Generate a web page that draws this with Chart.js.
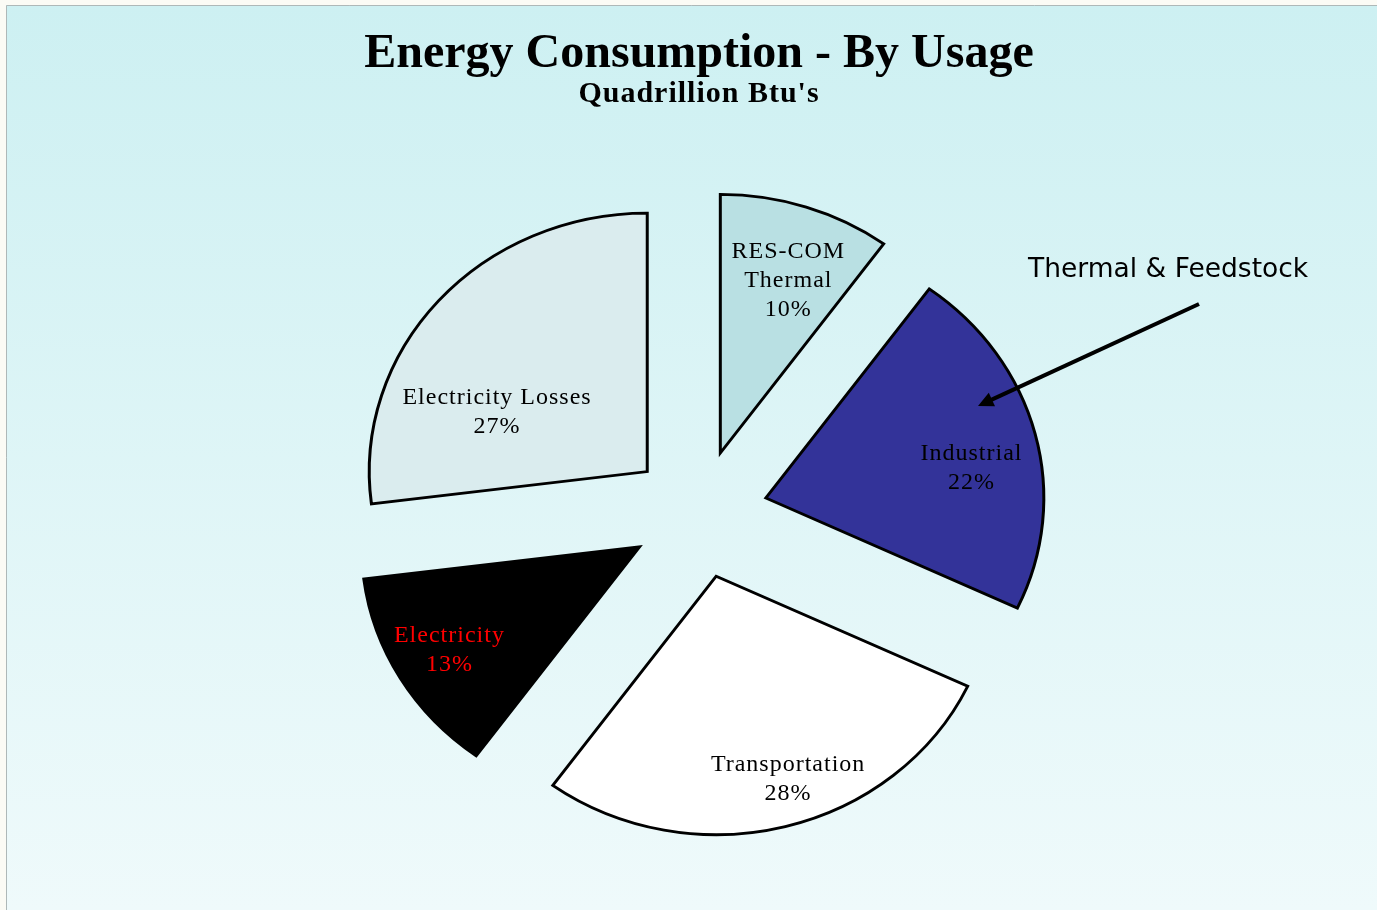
<!DOCTYPE html>
<html>
<head>
<meta charset="utf-8">
<script src="https://cdn.jsdelivr.net/npm/chart.js@4.4.0/dist/chart.umd.min.js"></script>
<style>
html, body { margin: 0; padding: 0; background: #fbfbf5; }
#energyPie { display: block; }
</style>
</head>
<body>
<canvas id="energyPie" width="1377" height="910"></canvas>
<script>
// data
const usageNames = ['RES-COM\nThermal', 'Industrial', 'Transportation', 'Electricity', 'Electricity Losses'];
const usageShares = [10, 22, 28, 13, 27];
const sliceColors = ['#b9e0e3', '#333399', '#ffffff', '#000000', '#daecee'];
const labelColors = ['#000000', '#000000', '#000000', '#ff0000', '#000000'];
const chartTitle = 'Energy Consumption - By Usage';
const chartSubtitle = "Quadrillion Btu's";
const calloutText = 'Thermal & Feedstock';

// look of the pie (excel style: exploded + a bit flattened)
const pieRadius = 278;
const explode = 69;
const squash = 0.93;
// label spot for each slice: [angle shift in deg from slice middle, fraction of radius]
const labelSpots = [[2, 0.715], [5, 0.75], [-4, 0.82], [0.6, 0.79], [-17.7, 0.59]];

const pieLook = {
	id: 'pieLook',
	beforeDraw(chart) {
		const {ctx, width, height} = chart;
		ctx.save();
		ctx.fillStyle = '#fbfbf5';
		ctx.fillRect(0, 0, width, height);
		const grad = ctx.createLinearGradient(0, 5, 0, height);
		grad.addColorStop(0, '#cdf0f2');
		grad.addColorStop(1, '#effafb');
		ctx.fillStyle = grad;
		ctx.fillRect(6, 5, width - 6, height - 5);
		ctx.strokeStyle = '#aeb8b8';
		ctx.lineWidth = 1;
		ctx.beginPath();
		ctx.moveTo(6.5, height);
		ctx.lineTo(6.5, 5.5);
		ctx.lineTo(width, 5.5);
		ctx.stroke();
		ctx.restore();
	},
	beforeDatasetsDraw(chart) {
		const ctx = chart.ctx;
		chart.getDatasetMeta(0).data.forEach((arc) => {
			const mid = (arc.startAngle + arc.endAngle) / 2;
			ctx.save();
			ctx.translate(arc.x, arc.y);
			ctx.scale(1, squash);
			ctx.translate(Math.cos(mid) * explode - arc.x, Math.sin(mid) * explode - arc.y);
			arc.draw(ctx);
			ctx.restore();
		});
		return false;
	},
	afterDraw(chart) {
		const ctx = chart.ctx;
		const cx = chart.chartArea.left + chart.chartArea.width / 2;
		ctx.save();
		ctx.fillStyle = '#000';
		ctx.textAlign = 'center';
		ctx.textBaseline = 'alphabetic';
		ctx.font = 'bold 48px "Liberation Serif", serif';
		ctx.fillText(chartTitle, cx, 67);
		ctx.font = 'bold 30px "Liberation Serif", serif';
		ctx.letterSpacing = '1px';
		ctx.fillText(chartSubtitle, cx, 102);

		// slice labels
		ctx.font = '24px "Liberation Serif", serif';
		ctx.letterSpacing = '1px';
		chart.getDatasetMeta(0).data.forEach((arc, i) => {
			const mid = (arc.startAngle + arc.endAngle) / 2;
			const la = mid + labelSpots[i][0] * Math.PI / 180;
			const r = labelSpots[i][1] * pieRadius;
			const px = arc.x + Math.cos(mid) * explode + Math.cos(la) * r;
			const py = arc.y + (Math.sin(mid) * explode + Math.sin(la) * r) * squash;
			const lines = usageNames[i].split('\n');
			lines.push(usageShares[i] + '%');
			ctx.fillStyle = labelColors[i];
			lines.forEach((line, j) => {
				ctx.fillText(line, px, py + (j - (lines.length - 1) / 2) * 29 + 8);
			});
		});

		// callout with arrow
		ctx.letterSpacing = '0px';
		ctx.textAlign = 'left';
		ctx.fillStyle = '#000';
		ctx.font = '26.5px "DejaVu Sans", sans-serif';
		ctx.fillText(calloutText, 1028, 277);
		const x0 = 1199, y0 = 304, x1 = 978, y1 = 406;
		const ang = Math.atan2(y1 - y0, x1 - x0);
		ctx.strokeStyle = '#000';
		ctx.lineWidth = 4;
		ctx.beginPath();
		ctx.moveTo(x0, y0);
		ctx.lineTo(x1 - Math.cos(ang) * 8, y1 - Math.sin(ang) * 8);
		ctx.stroke();
		ctx.beginPath();
		ctx.moveTo(x1, y1);
		ctx.lineTo(x1 - Math.cos(ang - 0.45) * 17, y1 - Math.sin(ang - 0.45) * 17);
		ctx.lineTo(x1 - Math.cos(ang + 0.45) * 17, y1 - Math.sin(ang + 0.45) * 17);
		ctx.closePath();
		ctx.fill();
		ctx.restore();
	}
};

const energyChart = new Chart(document.getElementById('energyPie'), {
	type: 'pie',
	data: {
		labels: usageNames,
		datasets: [{
			data: usageShares,
			backgroundColor: sliceColors,
			borderColor: '#000000',
			borderWidth: 3,
			borderJoinStyle: 'miter'
		}]
	},
	options: {
		responsive: false,
		animation: false,
		radius: pieRadius,
		layout: {
			padding: {left: 40, right: 19, top: 130, bottom: 12}
		},
		plugins: {
			legend: {display: false},
			title: {display: false},
			tooltip: {enabled: false}
		}
	},
	plugins: [pieLook]
});
</script>
</body>
</html>
